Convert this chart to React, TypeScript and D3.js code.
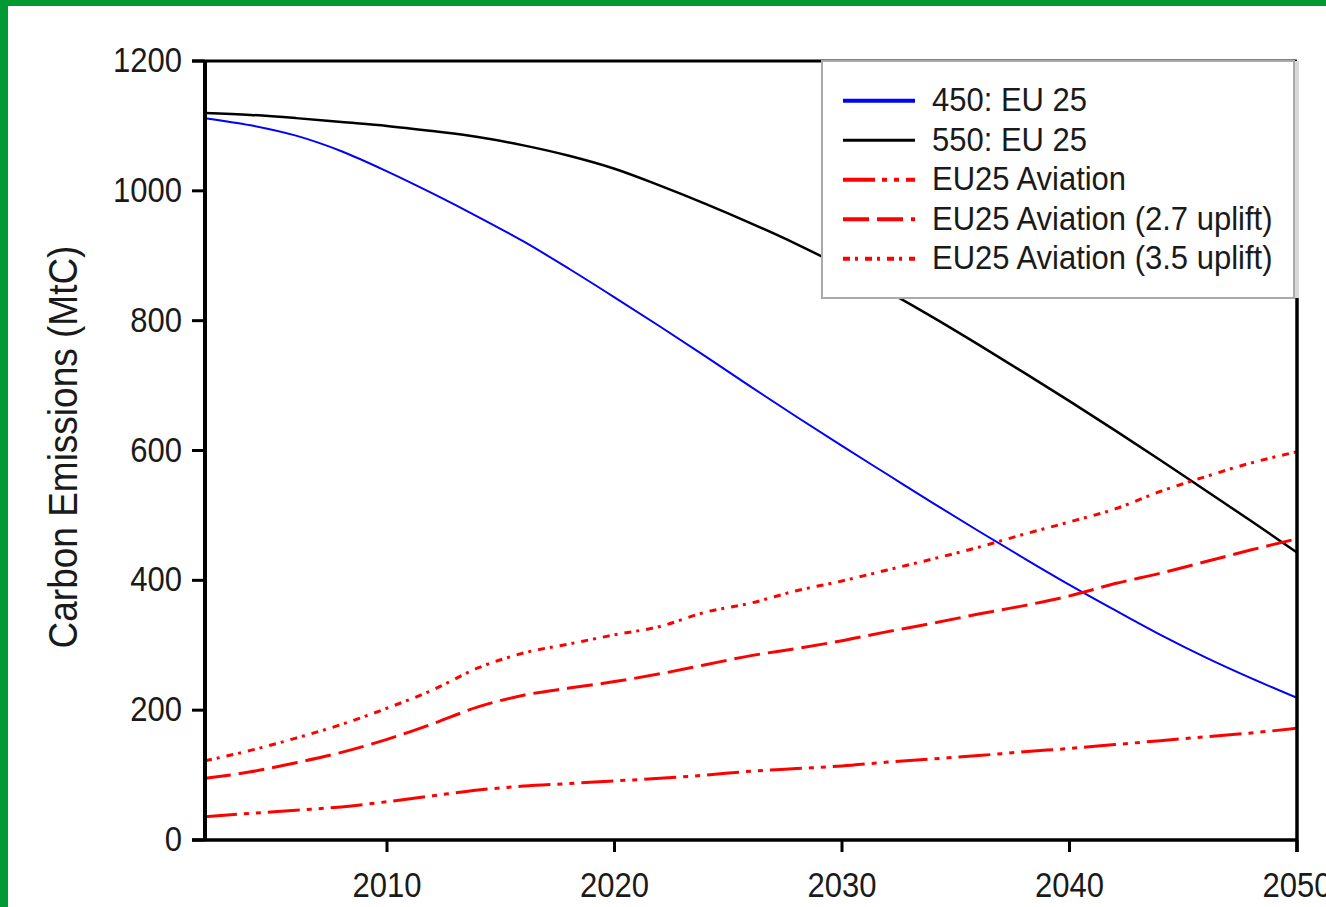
import React from 'react';
import * as d3 from 'd3';

const years = [2002, 2004, 2006, 2008, 2010, 2012, 2014, 2016, 2018, 2020, 2022, 2024, 2026, 2028, 2030, 2032, 2034, 2036, 2038, 2040, 2042, 2044, 2046, 2048, 2050];
const eu450 = [1112, 1101, 1085, 1061, 1030, 996, 960, 922, 880, 836, 791, 745, 698, 652, 607, 563, 519, 476, 434, 393, 354, 316, 281, 249, 219];
const eu550 = [1120, 1117, 1112, 1106, 1100, 1092, 1083, 1070, 1054, 1034, 1008, 980, 950, 918, 883, 845, 805, 763, 720, 676, 631, 585, 538, 491, 443];
const aviation = [36, 41, 46, 51, 59, 68, 77, 83, 87, 91, 95, 100, 106, 110, 114, 120, 125, 130, 136, 141, 147, 153, 159, 165, 172];
const aviation27 = [95, 105, 119, 135, 155, 179, 205, 223, 234, 244, 256, 270, 284, 295, 307, 321, 334, 348, 361, 376, 395, 411, 429, 447, 464];
const aviation35 = [122, 138, 157, 178, 203, 231, 265, 288, 302, 316, 329, 351, 365, 384, 399, 416, 433, 451, 471, 490, 510, 537, 560, 581, 598];

const yTicks = [0, 200, 400, 600, 800, 1000, 1200];
const xTicks = [2010, 2020, 2030, 2040, 2050];
const yLabel = 'Carbon Emissions (MtC)';

const seriesDefs = [
  { label: '450: EU 25', values: eu450, color: '#0000ff', width: 2, legendWidth: 4, dash: '' },
  { label: '550: EU 25', values: eu550, color: '#000000', width: 2.5, legendWidth: 3, dash: '' },
  { label: 'EU25 Aviation', values: aviation, color: '#ff0000', width: 3, legendWidth: 4, dash: '32,7,5,7,5,7' },
  { label: 'EU25 Aviation (2.7 uplift)', values: aviation27, color: '#ff0000', width: 3, legendWidth: 4, dash: '26,8' },
  { label: 'EU25 Aviation (3.5 uplift)', values: aviation35, color: '#ff0000', width: 3, legendWidth: 4, dash: '7,5,3,7' },
];

const W = 1326;
const H = 907;
const plot = { left: 205, right: 1297, top: 61, bottom: 840 };
const FONT = '"Liberation Sans", Arial, sans-serif';
const TXT = '#1a1a1a';

export default function App() {
  const x = d3.scaleLinear().domain([2002, 2050]).range([plot.left, plot.right]);
  const y = d3.scaleLinear().domain([0, 1200]).range([plot.bottom, plot.top]);
  const line = (vals: number[]) =>
    d3.line<number>()
      .x((_, i) => x(years[i]))
      .y((d) => y(d))
      .curve(d3.curveMonotoneX)(vals) || '';

  const legend = { x: 822, y: 61, w: 472, h: 237 };
  const rowY = (i: number) => 100.7 + i * 39.5;

  return (
    <div style={{ position: 'absolute', left: 0, top: 0, width: W, height: H }}>
      <svg width={W} height={H} style={{ display: 'block' }}>
        <rect x={0} y={0} width={W} height={H} fill="#009933" />
        <rect x={8} y={6} width={W} height={H} fill="#ffffff" />

        <defs>
          <clipPath id="clip">
            <rect x={plot.left} y={plot.top} width={plot.right - plot.left + 2} height={plot.bottom - plot.top} />
          </clipPath>
        </defs>

        {/* series */}
        <g clipPath="url(#clip)">
          {seriesDefs.map((s, i) => (
            <path
              key={i}
              d={line(s.values)}
              fill="none"
              stroke={s.color}
              strokeWidth={s.width}
              strokeDasharray={s.dash || undefined}
            />
          ))}
        </g>

        {/* frame */}
        <line x1={plot.left - 13} x2={plot.right} y1={plot.top} y2={plot.top} stroke="#000" strokeWidth={3} />
        <line x1={plot.right} x2={plot.right} y1={plot.top} y2={plot.bottom + 12} stroke="#000" strokeWidth={3.5} />
        <line x1={plot.left} x2={plot.left} y1={plot.top} y2={plot.bottom} stroke="#000" strokeWidth={4} />
        <line x1={plot.left - 13} x2={plot.right} y1={plot.bottom} y2={plot.bottom} stroke="#000" strokeWidth={3.5} />

        {/* y ticks */}
        {yTicks.map((t) => (
          <g key={t}>
            <line x1={plot.left - 13} x2={plot.left} y1={y(t)} y2={y(t)} stroke="#000" strokeWidth={3} />
            <text
              transform={`translate(182, ${y(t) + 11}) scale(0.97, 1.1)`}
              textAnchor="end"
              fontFamily={FONT}
              fontSize={32}
              fill={TXT}
            >
              {t}
            </text>
          </g>
        ))}

        {/* x ticks */}
        {xTicks.map((t) => (
          <g key={t}>
            <line x1={x(t)} x2={x(t)} y1={plot.bottom} y2={plot.bottom + 12} stroke="#000" strokeWidth={3} />
            <text
              transform={`translate(${x(t)}, 897) scale(0.97, 1.1)`}
              textAnchor="middle"
              fontFamily={FONT}
              fontSize={32}
              fill={TXT}
            >
              {t}
            </text>
          </g>
        ))}

        {/* y label */}
        <text
          transform={`translate(77, 447) rotate(-90) scale(1, 1.08)`}
          textAnchor="middle"
          fontFamily={FONT}
          fontSize={37}
          fill={TXT}
        >
          {yLabel}
        </text>

        {/* legend */}
        <rect x={legend.x + legend.w} y={legend.y} width={5} height={legend.h} fill="#d8d8d8" />
        <rect x={legend.x} y={legend.y} width={legend.w} height={legend.h} fill="#ffffff" stroke="#aaaaaa" strokeWidth={2} />
        {seriesDefs.map((s, i) => (
          <g key={i}>
            <line
              x1={843}
              x2={915}
              y1={rowY(i)}
              y2={rowY(i)}
              stroke={s.color}
              strokeWidth={s.legendWidth}
              strokeDasharray={s.dash || undefined}
            />
            <text
              transform={`translate(932, ${rowY(i) + 10.5}) scale(1, 1.08)`}
              fontFamily={FONT}
              fontSize={31}
              fill={TXT}
            >
              {s.label}
            </text>
          </g>
        ))}
      </svg>
    </div>
  );
}
